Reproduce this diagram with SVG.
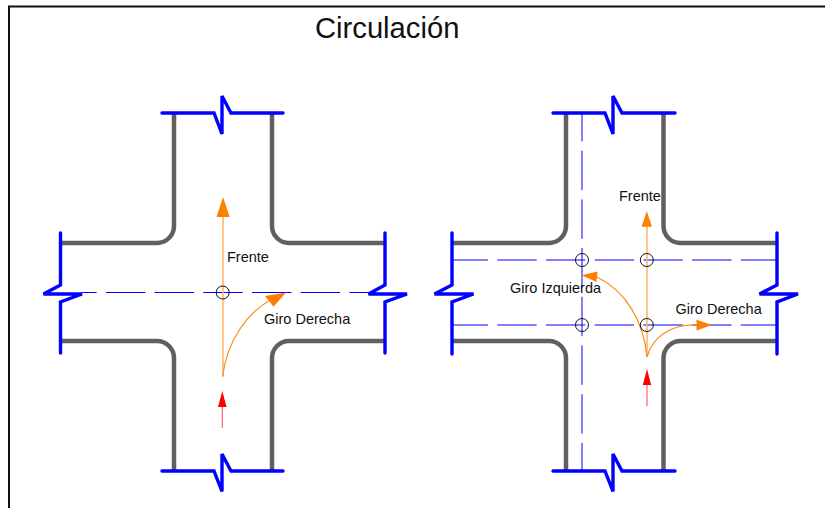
<svg xmlns="http://www.w3.org/2000/svg" width="825" height="508" viewBox="0 0 825 508">
<style>
.frame{fill:none;stroke:#111;stroke-width:2}
.wall{fill:none;stroke:#606060;stroke-width:4.500}
.brk{fill:none;stroke:#0000ff;stroke-width:3.400;stroke-linecap:round;stroke-linejoin:miter}
.axis{fill:none;stroke:#0000ff;stroke-width:1;stroke-dasharray:39.400 9.300}
.ring{fill:none;stroke:#111;stroke-width:1}
.straight{fill:none;stroke:#ffb066;stroke-width:1.500}
.curve{fill:none;stroke:#ff8c1a;stroke-width:1.200}
.head{fill:#ff8000}
.red{fill:none;stroke:#ff6070;stroke-width:1.200}
.redhead{fill:#ff0000}
text{font-family:"Liberation Sans",Arial,sans-serif;fill:#111;font-size:14.500px}
.title{font-size:29.200px}
</style>
<rect width="825" height="508" fill="#fff"/>
<g id="frame"><path class="frame" d="M9,508V6.500H825"/></g>
<text class="title" x="315" y="38">Circulación</text>

<g id="cross-left">
<path class="wall" d="M60,243H157A17,17 0 0 0 174,226V113"/>
<path class="wall" d="M272,113V226A17,17 0 0 0 289,243H385"/>
<path class="wall" d="M60,341H157A17,17 0 0 1 174,358V471"/>
<path class="wall" d="M272,471V358A17,17 0 0 1 289,341H385"/>
<path class="brk" d="M162,113H214L222,134L222,96L231,113H283"/>
<path class="brk" d="M162,471H214L222,491.500L222,454L231,471H283"/>
<path class="brk" d="M60.500,233V285L43.500,294H82L60.500,302V353"/>
<path class="brk" d="M385,233V285L368.500,294H407L385,302V353"/>
</g>

<g id="cross-right">
<path class="wall" d="M452,243H549A17,17 0 0 0 566,226V113"/>
<path class="wall" d="M663.500,113V226A17,17 0 0 0 680.500,243H777"/>
<path class="wall" d="M452,341H549A17,17 0 0 1 566,358V471"/>
<path class="wall" d="M663.500,471V358A17,17 0 0 1 680.500,341H777"/>
<path class="brk" d="M553,113H605L613,134L613,96L622,113H675"/>
<path class="brk" d="M553,471H605L613,491.500L613,454L622,471H675"/>
<path class="brk" d="M452,233V285L434.500,294H473.500L452,302V354"/>
<path class="brk" d="M777,233V285L759.500,294H798L777,302V354"/>
</g>

<g id="connectors">
<line class="axis" stroke-dashoffset="24.800" x1="82" y1="292.500" x2="368" y2="292.500"/>
<line class="axis" stroke-dashoffset="3.400" x1="452" y1="260" x2="777" y2="260"/>
<line class="axis" stroke-dashoffset="3.400" x1="452" y1="325" x2="777" y2="325"/>
<line class="axis" stroke-dashoffset="11" x1="582" y1="113" x2="582" y2="471"/>
<path class="straight" d="M223,376V216"/>
<path class="head" d="M223,197L229.700,217H216.500Z"/>
<path class="curve" d="M222.500,377C227,340 248,312 272,299"/>
<path class="head" d="M286,292.500L273.500,306.700L265,296Z"/>
<path class="red" d="M222.300,428V405"/>
<path class="redhead" d="M222.300,391L226.500,407H218Z"/>

<path class="straight" d="M647,357V226"/>
<path class="head" d="M646.800,211L652,226.800H641.600Z"/>
<path class="curve" d="M647,357C644,322 626,291 597,277"/>
<path class="head" d="M581.500,275.300L597.500,271.500L596.500,282Z"/>
<path class="curve" d="M647,357C652,338 670,324 697,325"/>
<path class="head" d="M712,325L696.500,330.500V319.800Z"/>
<path class="red" d="M647,406V384"/>
<path class="redhead" d="M647,369L651.200,385H642.800Z"/>
</g>

<g id="rings">
<circle class="ring" cx="222.700" cy="292.500" r="6.500"/>
<circle class="ring" cx="582" cy="260" r="6.500"/>
<circle class="ring" cx="646.800" cy="260" r="6.500"/>
<circle class="ring" cx="582" cy="325" r="6.500"/>
<circle class="ring" cx="646.800" cy="325" r="6.500"/>
</g>

<g id="labels">
<text x="227" y="262">Frente</text>
<text x="264" y="324">Giro Derecha</text>
<text x="619" y="201">Frente</text>
<text x="510" y="293">Giro Izquierda</text>
<text x="675.500" y="314">Giro Derecha</text>
</g>
</svg>
